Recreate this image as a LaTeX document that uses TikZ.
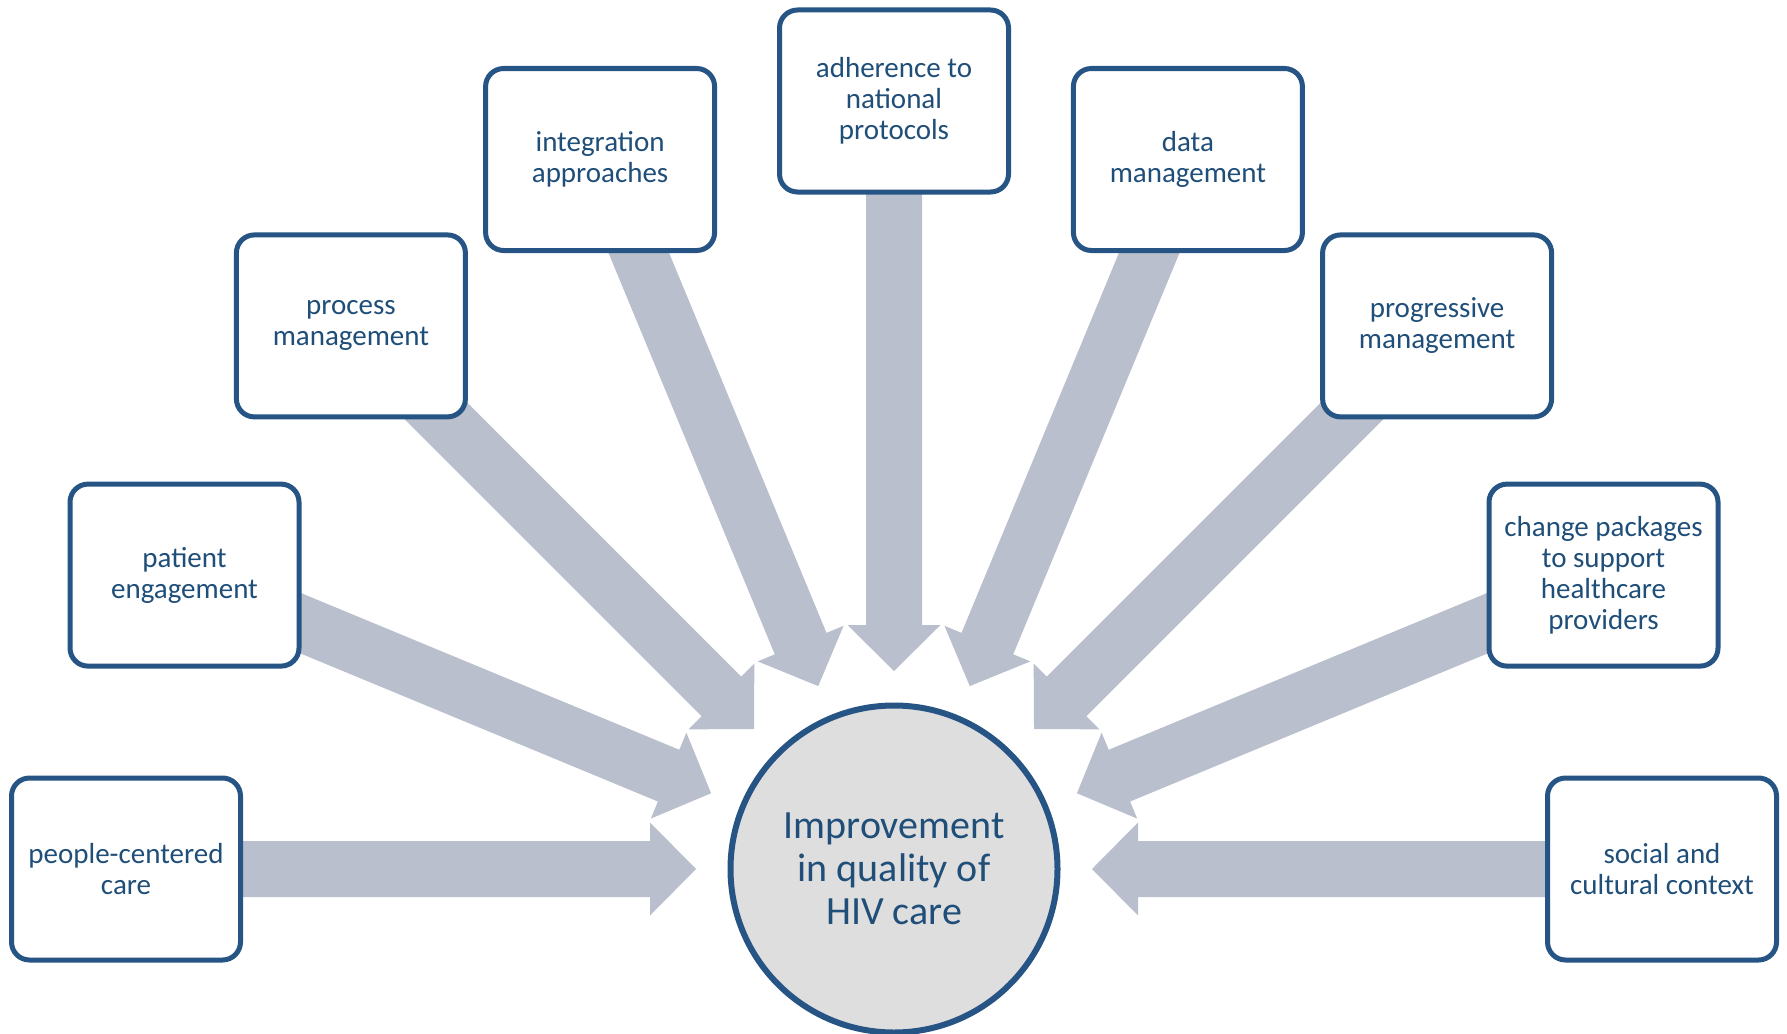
\documentclass[tikz,border=0pt]{standalone}
\usepackage{fontspec}
\setmainfont{Carlito}
\usetikzlibrary{calc}
\definecolor{arrowgray}{RGB}{185,191,204}
\definecolor{boxblue}{RGB}{38,84,132}
\definecolor{textblue}{RGB}{31,78,121}
\definecolor{circfill}{RGB}{222,222,223}
\pgfdeclarelayer{background}
\pgfsetlayers{background,main}
\tikzset{
  factor/.style={draw=boxblue, line width=5pt, fill=white, rounded corners=18pt,
    minimum width=229pt, minimum height=182pt, align=center, text=textblue,
    font=\fontsize{29}{31}\selectfont, inner sep=0pt},
  hub/.style={circle, draw=boxblue, line width=6pt, fill=circfill, minimum size=327pt,
    align=center, text=textblue, font=\fontsize{40}{43}\selectfont, inner sep=0pt},
  blockarrowfill/.style={fill=arrowgray},
}
\newcommand\blockarrow[2]{%
  \coordinate (H) at ($(#2)!244pt!(#1)$);
  \fill[blockarrowfill] ($(#2)!198pt!(#1)$) -- ($(H)!46.5pt!90:(#1)$) -- ($(H)!28pt!90:(#1)$)
    -- ($(#1)!28pt!-90:(#2)$) -- ($(#1)!28pt!90:(#2)$) -- ($(H)!28pt!-90:(#1)$)
    -- ($(H)!46.5pt!-90:(#1)$) -- cycle;}
\begin{document}
\begin{tikzpicture}[x=1pt,y=-1pt]
\useasboundingbox (0,0) rectangle (1787,1033);
\node[hub] (c) at (894,869) {Improvement\\in quality of\\HIV care};
\node[factor] (b1) at (126,869) {people-centered\\care};
\node[factor] (b2) at (184.5,575.1) {patient\\engagement};
\node[factor] (b3) at (350.9,325.9) {process\\management};
\node[factor] (b4) at (600.1,159.5) {integration\\approaches};
\node[factor] (b5) at (894,101) {adherence to\\national\\protocols};
\node[factor] (b6) at (1187.9,159.5) {data\\management};
\node[factor] (b7) at (1437.1,325.9) {progressive\\management};
\node[factor] (b8) at (1603.5,575.1) {change packages\\to support\\healthcare\\providers};
\node[factor] (b9) at (1662,869) {social and\\cultural context};
\begin{pgfonlayer}{background}
\foreach \b in {b1,b2,b3,b4,b5,b6,b7,b8,b9}{\blockarrow{\b}{c}}
\end{pgfonlayer}
\end{tikzpicture}
\end{document}
